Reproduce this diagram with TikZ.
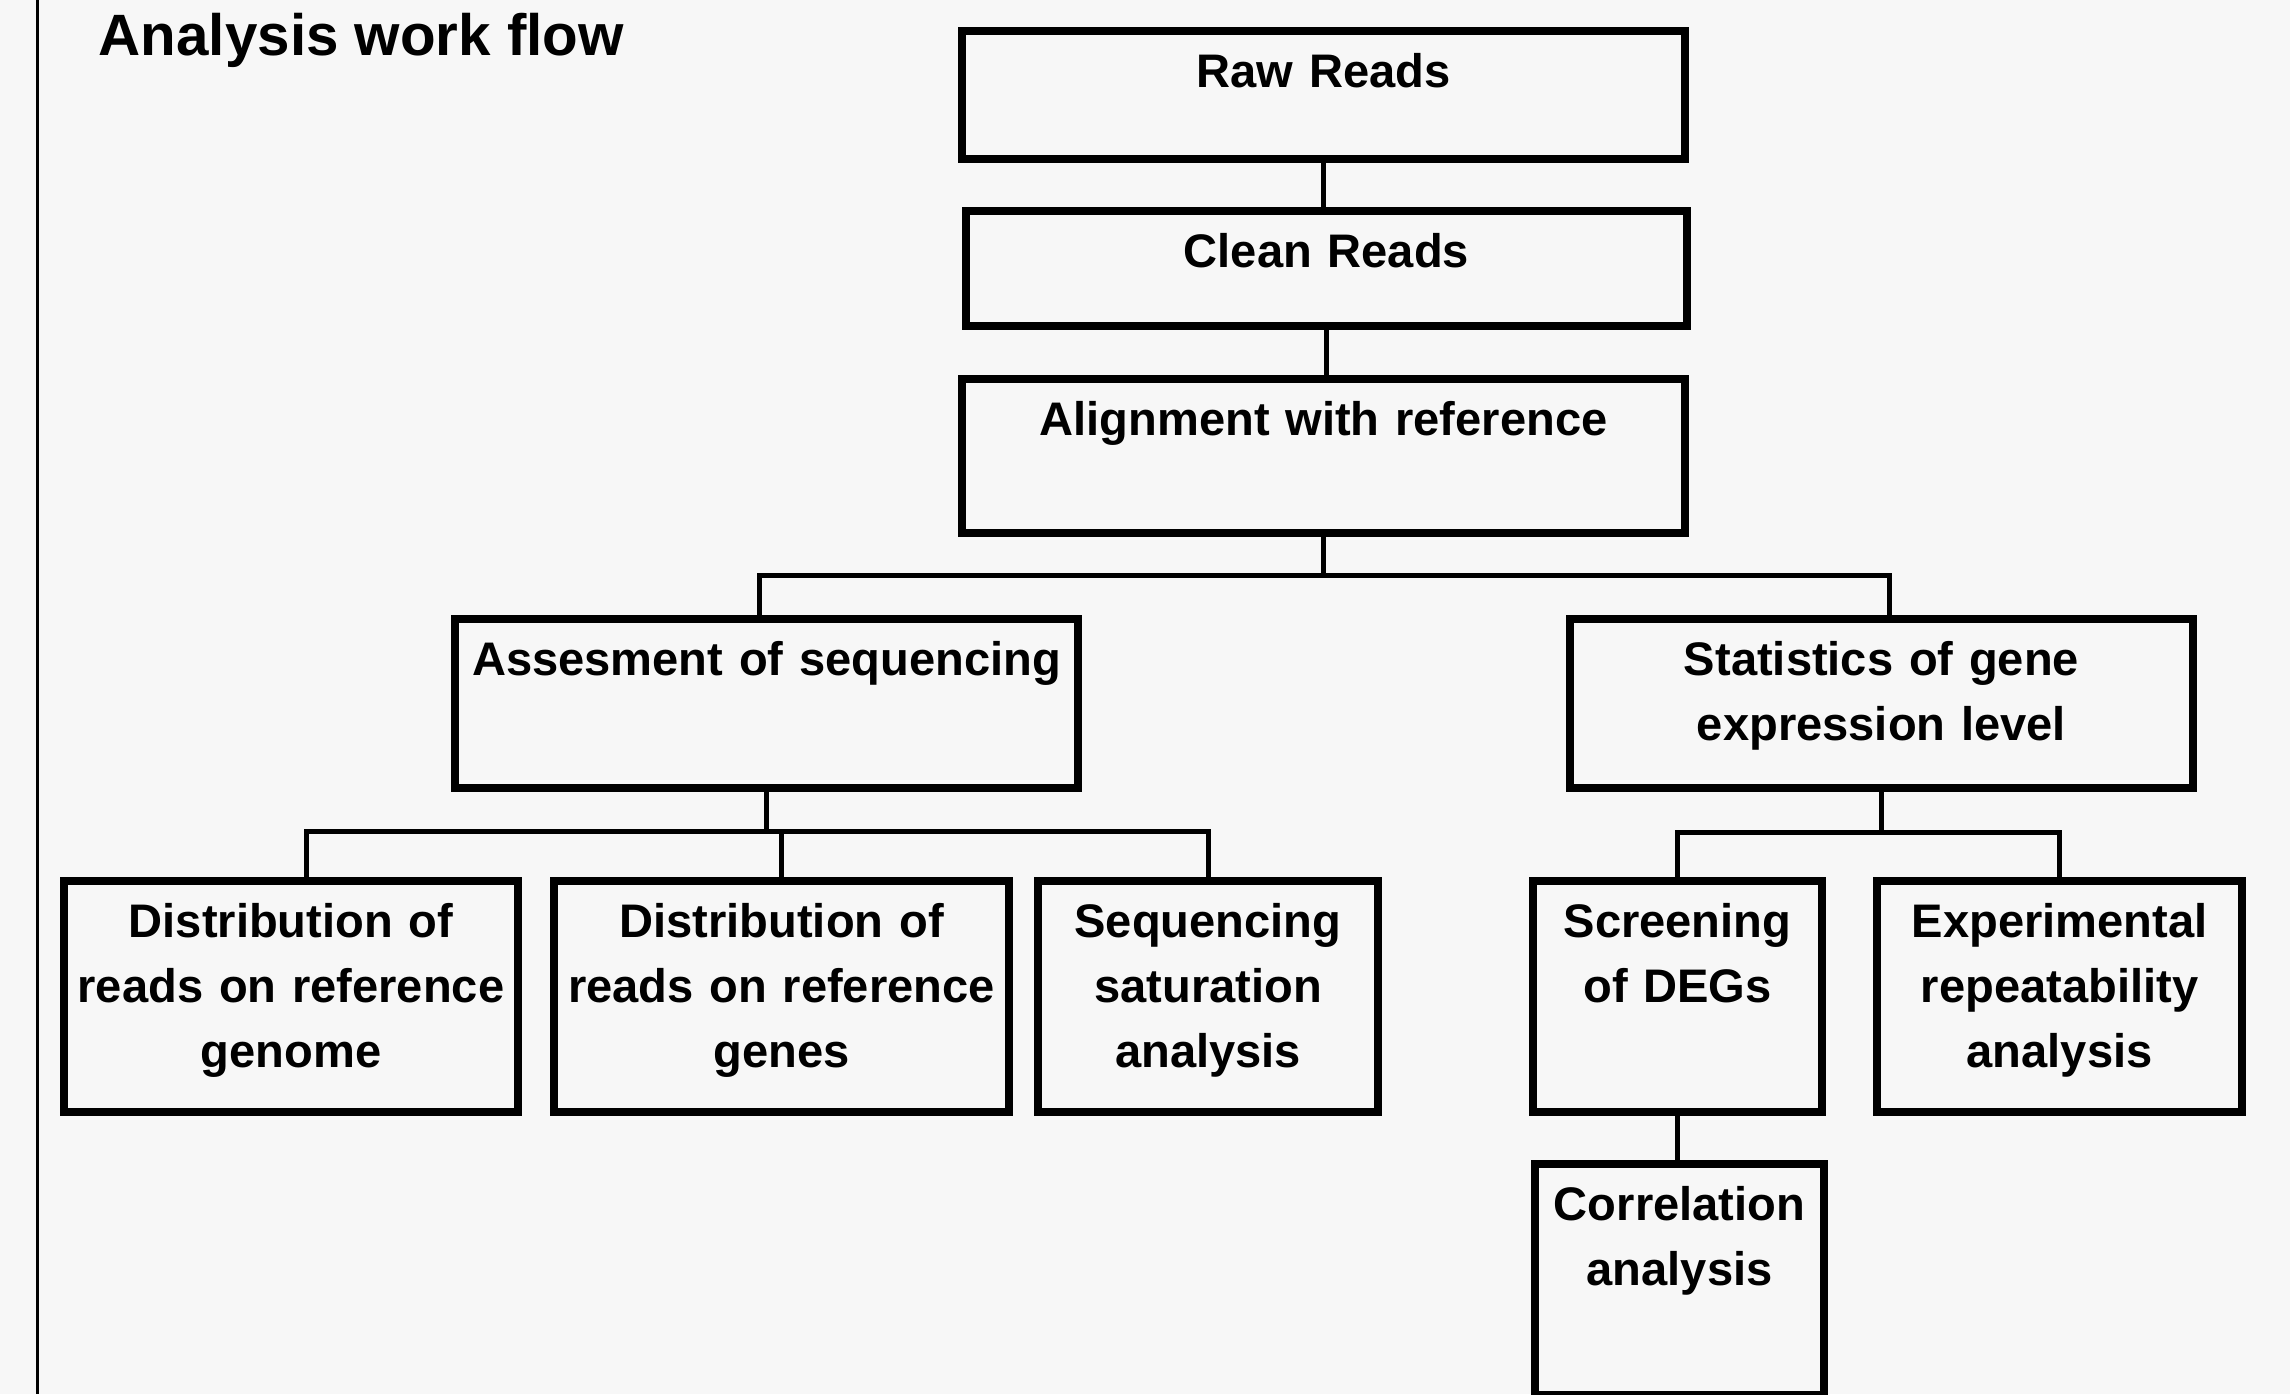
\documentclass[tikz,border=0pt]{standalone}
\usepackage{fontspec}
\setmainfont{Liberation Sans}
\usetikzlibrary{calc}
\newcommand{\boxfont}{\fontsize{13.4pt}{18.6pt}\selectfont\bfseries}
\newcommand{\titlefont}{\fontsize{16.6pt}{20pt}\selectfont\bfseries}
\definecolor{bgray}{RGB}{247,247,247}
\begin{document}
\begin{tikzpicture}[
    stepbox/.style={draw, line width=0.08cm, align=center, anchor=north,
      inner xsep=0.1cm, inner ysep=0.19cm, text height=0.37cm, font=\boxfont},
    link/.style={line width=0.05cm}]
  \useasboundingbox (0,0) rectangle (22.9,-13.94);
  \fill[bgray] (0,0) rectangle (22.9,-13.94);
  \draw[line width=0.03cm] (0.37,0) -- (0.37,-13.94);
  \node[anchor=base west, inner sep=0, font=\titlefont] (title) at (0.98,-0.55) {Analysis work flow};
  % main chain
  \node[stepbox, text width=7.03cm, text depth=0.53cm] (raw) at (13.235,-0.27) {Raw Reads};
  \node[stepbox, text width=7.01cm, text depth=0.40cm] (clean) at (13.265,-2.07) {Clean Reads};
  \node[stepbox, text width=7.03cm, text depth=0.79cm] (align) at (13.235,-3.75) {Alignment with reference};
  \node[stepbox, text width=6.03cm, text depth=0.94cm] (assess) at (7.665,-6.15) {Assesment of sequencing};
  \node[stepbox, text width=6.03cm, text depth=0.94cm] (stats) at (18.815,-6.15) {Statistics of gene\\expression level};
  % leaves
  \node[stepbox, text width=4.34cm, text depth=1.56cm] (dgenome) at (2.91,-8.77) {Distribution of\\reads on reference\\genome};
  \node[stepbox, text width=4.35cm, text depth=1.56cm] (dgenes) at (7.815,-8.77) {Distribution of\\reads on reference\\genes};
  \node[stepbox, text width=3.20cm, text depth=1.56cm] (satur) at (12.08,-8.77) {Sequencing\\saturation\\analysis};
  \node[stepbox, text width=2.69cm, text depth=1.56cm] (screen) at (16.775,-8.77) {Screening\\of DEGs};
  \node[stepbox, text width=3.45cm, text depth=1.56cm] (exper) at (20.595,-8.77) {Experimental\\repeatability\\analysis};
  \node[stepbox, text width=2.69cm, text depth=1.56cm] (corr) at (16.795,-11.60) {Correlation\\analysis};
  % connectors
  \draw[link] (raw) -- (raw |- clean.north);
  \draw[link] (clean) -- (clean |- align.north);
  \coordinate (busT) at ($(align.south)+(0,-0.38)$);
  \draw[link] (align) -- (busT);
  \draw[link] ([xshift=-0.07cm]assess.north) |- (busT) -| ([xshift=0.08cm]stats.north);
  \coordinate (busL) at ($(assess.south)+(0,-0.39)$);
  \draw[link] (assess) -- (busL);
  \draw[link] ([xshift=0.15cm]dgenome.north) |- (busL) -| (satur.north);
  \draw[link] (dgenes) -- (dgenes |- busL);
  \coordinate (busR) at ($(stats.south)+(0,-0.40)$);
  \draw[link] (stats) -- (busR);
  \draw[link] (screen.north) |- (busR) -| (exper.north);
  \draw[link] (screen) -- (screen |- corr.north);
\end{tikzpicture}
\end{document}
